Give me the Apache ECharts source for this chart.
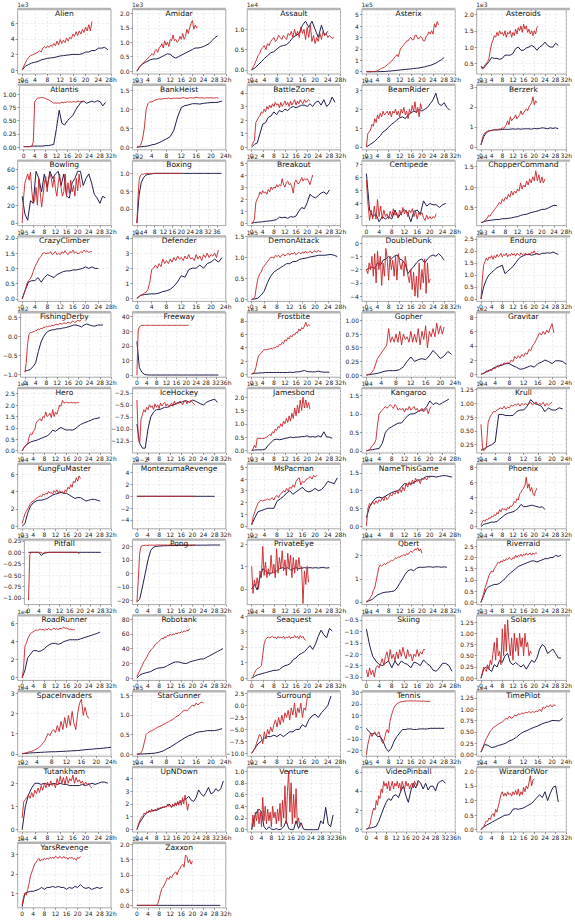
<!DOCTYPE html>
<html>
<head>
<meta charset="utf-8">
<script src="https://cdn.jsdelivr.net/npm/echarts@6/dist/echarts.min.js"></script>
<style>
html, body { margin: 0; padding: 0; background: #fff; }
#chart { width: 575px; height: 920px; }
</style>
</head>
<body>
<div id="chart"></div>
<script>
// red curve: one value every 0.5h, navy curve: one value every 1h
const alien_r = [0,.5,.9,1.3,1.6,1.8,1.9,2,2.1,2.2,2.3,2.5,2.3,2.8,3,2.8,3.1,2.9,3.2,3,3.4,3.1,3.7,3.2,3.9,3.4,3.8,3.5,4.1,3.7,4.2,4,4.6,4.3,4.9,4.4,5,4.6,5.2,4.8,5.5,5,5.8,5,6.2];
const alien_n = [0,.5,.7,.9,1,1.1,1.3,1.4,1.5,1.55,1.6,1.7,1.8,1.85,1.9,1.95,2,2,2,2.1,2.3,2.3,2.5,2.5,2.8,2.8,2.9,2.6];
const amidar_r = [0,.08,.15,.2,.25,.3,.35,.4,.45,.5,.55,.6,.55,.7,.75,.65,.8,.85,.95,.8,1.05,.9,1,.85,1.1,1.05,1.25,1.05,1.1,1,1.05,1.2,1.1,1.3,1.1,1.2,1.45,1.3,1.5,1.65,1.75,1.45,1.6,1.5,1.55];
const amidar_n = [0,.15,.25,.3,.35,.4,.42,.42,.45,.5,.55,.6,.58,.5,.45,.5,.55,.6,.65,.7,.75,.8,.8,.82,.85,.9,.95,1.05,1.15,1.22];
const assault_r = [0,.08,.15,.25,.35,.4,.5,.55,.6,.5,.65,.6,.7,.75,.8,.7,.75,.85,.8,.75,.85,.8,.75,.9,.85,.95,.8,1,.85,.95,.8,1.05,.9,1,.75,1.05,.8,1.1,.7,.85,.65,.8,.7,.9,.75,.95,.85,.9,.8,.85,.8,.78,.8];
const assault_n = [0,.05,.12,.2,.28,.35,.42,.45,.52,.58,.6,.62,.7,.8,.85,.9,1.1,1.2,1.05,1.2,1,.8,1.1,.85,.95];
const asterix_r = [0,0,0,0,.01,.02,.03,.05,.1,.15,.25,.3,.35,.4,.5,.6,.7,.8,.9,1.05,1.2,1.35,1.5,1.3,1.8,2.1,2.2,2.4,2.5,2.7,2.7,2.9,3,2.8,2.8,3.2,3.2,2.9,2.9,3.1,3,2.7,2.7,3.1,3.2,3.5,3.3,3.6,3.3,4.2,3.9,4.4,4.1];
const asterix_n = [0,0,0,0,0,.01,.02,.03,.05,.07,.1,.12,.15,.18,.2,.22,.25,.28,.3,.33,.38,.42,.5,.55,.65,.75,.9,1.05,1.25];
const asteroids_r = [.4,.32,.38,.45,.5,.55,.65,.9,1.1,1.2,1.35,1.3,1.45,1.35,1.5,1.4,1.45,1.35,1.5,1.3,1.45,1.4,1.5,1.3,1.45,1.35,1.55,1.4,1.6,1.5,1.65,1.45,1.7,1.55,1.65,1.45,1.55,1.4,1.5,1.35,1.5,1.4,1.6,1.65];
const asteroids_n = [.4,.35,.45,.55,.68,.65,.65,.62,.65,.75,.75,.75,.8,.95,1,.9,.9,.97,1,1.05,1,.9,1,1.05,1.15,1.05,1,1,1.12,1.05];
const atlantis_r = [.01,.01,.01,.01,.01,.01,.02,.1,.85,.9,.92,.93,.93,.94,.94,.93,.92,.91,.9,.88,.87,.85,.83,.84,.83,.84,.83,.84,.85,.84,.85,.85,.86,.85,.86,.85,.86,.86,.85,.86,.87,.86,.86,.87,.86];
const atlantis_n = [.01,.01,.01,.02,.02,.02,.02,.02,.03,.03,.04,.05,.35,.7,.45,.42,.5,.55,.6,.7,.78,.85,.87,.83,.85,.87,.85,.88,.86,.78,.85];
const bankheist_r = [0,.01,.05,.2,.5,1,1.15,1.2,1.2,1.22,1.25,1.26,1.28,1.27,1.28,1.29,1.28,1.3,1.29,1.28,1.3,1.29,1.3,1.29,1.3,1.31,1.3,1.29,1.3,1.31,1.3,1.3,1.32,1.31,1.3,1.31,1.3,1.3,1.31,1.3,1.31,1.3,1.3,1.31,1.3];
const bankheist_n = [0,.01,.02,.03,.06,.08,.12,.17,.22,.28,.45,.8,1.05,1.1,1.12,1.15,1.15,1.14,1.16,1.17,1.18,1.18,1.19,1.22];
const battlezone_r = [.1,.3,.5,1.8,2,2.2,2.3,2.6,2.5,2.8,2.6,3,2.8,3.1,2.9,3.2,3,3.3,3.1,3.2,2.9,3.3,3,3.2,3.4,3.1,3.3,3,3.4,3.1,3.3,3.5,3.1,3.4,3.2,3.5,3.3,3.2,3.5,3.3,3.4,3.5,3.4];
const battlezone_n = [0,.2,.3,1,1.7,1.8,2.2,2.3,2.6,2.4,2.7,2.6,2.8,2.7,2.9,3,2.9,3,3.1,3.1,3,3.2,3,3.3,3.4,3.1,3.5,3,3.2,3.7,3.3];
const beamrider_r = [0,.7,.8,.9,1.2,1.1,1.5,1.3,1.7,1.5,1.8,1.6,1.9,1.7,1.8,1.9,1.7,1.9,1.6,1.9,1.8,2,1.7,1.9,1.6,2,1.8,2.1,1.7,1.9,1.5,2,1.8,2.2,1.9,2.4,1.8,2.1,1.6,2.3,2];
const beamrider_n = [0,.1,.2,.3,.45,.6,.8,.9,1.05,1.2,1.3,1.45,1.55,1.6,1.5,1.7,1.8,1.9,1.85,2,1.9,2,2.1,2.3,2.5,2.85,2.3,2.2,2.35,2.1,1.95];
const berzerk_r = [.1,.4,.6,.7,.75,.78,.8,.8,.82,.83,.85,.84,.85,.87,.9,.88,.95,.92,1,1.1,1.3,1.1,1.5,1.3,1.4,1.45,1.6,1.4,1.5,1.6,1.8,1.6,1.7,1.8,1.9,1.8,2,2.1,2.2,2.5,2.1,2.3,2.2];
const berzerk_n = [.1,.5,.7,.8,.82,.85,.85,.85,.87,.88,.87,.88,.9,.88,.9,.88,.9,.9,.9,.88,.92,.9,.92,.95,.93,.9,.95,.92,.95,.9];
const bowling_r = [0,28,45,50,55,48,57,35,22,25,40,20,50,35,18,30,45,52,35,48,55,50,40,52,38,30,45,55,40,30,35,55,30,45,33,48,35,42,30,50,36,55,40];
const bowling_n = [30,10,3,25,22,58,50,35,55,40,58,50,55,58,42,55,30,28,45,50,58,58,42,50,55,45,32,28,22,30,28];
const boxing_r = [-.4,.3,.8,.93,.97,.98,.98,.99,.99,1,1,1,1,1,1,1,1,1,1,1,1,1,1,1,1,1,1,1,1,1,1,1,1,1,1,1,1,1,1,1,1];
const boxing_n = [-.4,.4,.75,.88,.95,.97,.98,.99,1,1,1,1,1,1,1,1,1,1,1,1,1,1,1,1,1,1,1,1,1,1,1,1,1,1,1,1,1,1,1];
const breakout_r = [0,.1,.3,1.7,2,2.2,2.6,2.4,2.7,2.5,2.6,2.4,2.8,2.6,3,2.8,3,2.9,3.2,3,3.2,3.1,3.7,3.2,3,3.4,3.5,3.2,3.3,3,2.5,3.4,3.6,3.3,3.3,3.5,3.8,3.5,3.7,3.6,3.7,3.5,3.2,3.6,4];
const breakout_n = [0,.05,.08,.1,.12,.15,.18,.2,.25,.3,.5,.45,.5,.4,.55,.5,.6,1,1.3,1.2,1.7,2.4,2.2,2.1,2.3,2.5,2.6,2.4,2.75];
const centipede_r = [5.8,4,2.7,3.5,2.8,3.8,2.8,4.3,3,3.8,2.8,3.5,3,3.2,2.8,3.4,3,3.6,3.1,3.3,2.9,3.5,3.1,3.7,3.2,3.5,3,3.5,3.3,3.6,3,3.4,2.8,3.3,3.1,3.3,2.9,2.7,3.1,2.8,3,2.8,3,2.9,3.2];
const centipede_n = [6.3,3.5,3,3.2,2.6,3,2.8,3,2.8,3.5,2.9,3.3,3.5,3.3,2.6,3.4,3.5,3.2,4.2,3.8,4,3.9,3.9,3.7,3.9,4];
const chopper_r = [.12,.13,.15,.2,.22,.3,.28,.35,.4,.45,.5,.55,.62,.58,.7,.65,.75,.7,.82,.75,.9,.8,.9,.85,.95,.9,1.1,.95,1.05,1,1.15,1.05,1.2,1.1,1.25,1.15,1.4,1.15,1.3,1.1,1.25,1.1,1.2];
const chopper_n = [.12,.15,.17,.18,.19,.2,.2,.22,.22,.23,.24,.26,.27,.3,.32,.33,.36,.38,.4,.42,.45,.45,.48,.52,.55,.54];
const crazy_r = [0,.15,.3,.5,.6,.65,.75,.9,1.05,1.15,1.25,1.35,1.4,1.5,1.52,1.48,1.5,1.5,1.55,1.45,1.5,1.55,1.45,1.5,1.45,1.55,1.5,1.58,1.5,1.45,1.55,1.52,1.6,1.5,1.55,1.48,1.5,1.55,1.52,1.6,1.55,1.58,1.52,1.55,1.55];
const crazy_n = [0,.3,.55,.6,.6,.7,.55,.7,.8,.75,.7,.8,.85,.9,.92,.92,.95,.95,.97,1,1.05,1,1.05,1,1];
const defender_r = [0,.1,.2,.25,.35,.4,.6,1.1,1.9,2,2.2,2,2.3,2.1,2.6,2.3,2.5,2.3,2.6,2.4,2.7,2.5,2.8,2.6,2.7,2.5,2.8,2.6,2.9,2.6,2.7,2.5,2.9,2.6,2.8,2.5,2.9,2.7,3,2.7,2.9,2.8,3,2.7,3.2];
const defender_n = [0,.2,.25,.28,.3,.3,.35,.45,.5,.6,.8,1.1,1.5,1.4,1.9,2,2,2.2,2,2.3,2.4,2.6,2.4,2.7];
const demon_r = [0,.01,.05,.3,.5,.6,.65,.75,.8,.85,.9,.95,1,1,.98,1.05,1.02,1.05,1,1.05,1.08,1.03,1.07,1.1,1.05,1.1,1.08,1.12,1.06,1.1,1.12,1.08,1.13,1.1,1.15,1.1,1.12,1.15,1.1,1.14,1.16,1.12,1.17,1.14,1.15];
const demon_n = [0,.01,.03,.1,.2,.4,.55,.65,.7,.75,.8,.85,.85,.9,.9,.95,.97,.98,1,1.02,1.03,1.05,1.05,1.05,1.06,1.07,1.05,1.02];
const dunk_r = [-2,-2.3,-1.5,-2,-1,-2.5,-.8,-3,-.6,-2,-1,-3.2,-1.5,-2.5,-.4,-1.2,-2.8,-1,-2,-1.3,-2.5,-1,-2.8,-.8,-1.5,-2,-1.4,-2.5,-1,-1.8,-2.5,-3,-2,-3.5,-2.2,-4,-2.5,-4.1,-1.5,-3.5,-2,-3,-1.2,-3.8,-1.5,-3,-2.7];
const dunk_n = [-2,-1.9,-1.8,-1.9,-1.5,-1.7,-1.3,-1.2,-1,-1.2,-1,-.9,-1.2,-1.3,-1.6,-2.3,-2,-1.8,-1.5,-1.3,-1.2,-1.5,-1.2,-1,-.9,-1,-.8,-1,-1.3];
const enduro_r = [0,.8,1.4,1.55,1.7,1.6,1.75,1.7,1.8,1.65,1.8,1.7,1.85,1.75,1.8,1.9,1.75,1.85,1.8,1.9,1.75,1.85,1.8,1.9,1.82,1.88,1.78,1.9,1.85,1.8,1.92,1.85,1.8,1.9,1.88,1.82,1.9,1.85,1.95,1.9,2,1.88,1.9,1.85,1.85];
const enduro_n = [0,.5,.8,1,1.1,1.2,1.3,1.35,1.4,1.05,1.15,1.25,1.35,1.5,1.65,1.75,1.8,1.85,1.85,1.82,1.85,1.88,1.85,1.9,1.9,1.92,1.9,1.95,1.9,1.85];
const fishing_r = [-.95,-.7,-.2,.05,.1,.1,.12,.13,.15,.16,.2,.18,.22,.2,.25,.23,.27,.25,.28,.26,.3,.28,.3,.32,.32,.3,.35,.33,.33,.36,.35,.34,.38,.36,.35,.4,.4,.37,.38,.42,.42,.4,.45];
const fishing_n = [-.92,-.9,-.88,-.8,-.7,-.4,-.15,0,.1,.15,.17,.18,.2,.2,.22,.23,.25,.27,.3,.3,.28,.25,.3,.33,.3,.28,.27,.3,.3,.3];
const freeway_r = [0,30,33,33.5,34,34,34,34,34,34,34,34,34,34,34,34,34,34,34,34,34,34,34,34,34,34,34,34,34,34,34,34,34,34,34,34,34,34,34,34,34,34,34];
const freeway_n = [23,5,2,.5,.1,0,0,0,0,0,0,0,0,0,0,0,0,0,0,0,0,0,0,0,0,0,0,0,0,0,0,0,0,0];
const frostbite_r = [0,.2,.3,1,2,2.8,3,3.2,3.5,3.7,3.7,3.7,3.8,3.8,3.9,3.8,4,4,4.2,4.1,4.5,4.4,4.8,4.6,5.2,5,5.5,5.3,5.8,5.6,6,5.9,6.3,6.2,6.8,6.5,7,6.8,7.2,7.8,7.2,7.4,7.3];
const frostbite_n = [.1,.2,.2,.25,.25,.3,.3,.3,.3,.3,.3,.3,.3,.3,.35,.3,.4,.4,.5,.6,.45,.4,.4,.4,.5,.4,.35,.35,.35];
const gopher_r = [0,.01,.02,.05,.1,.2,.3,.35,.4,.45,.5,.55,.85,.6,.7,.6,.75,.6,.8,.55,.75,.65,.7,.6,.8,.6,.75,.6,.85,.55,.8,.65,.9,.5,.8,.7,.85,.7,.95,.75,.9,.75,.88];
const gopher_n = [0,.01,.02,.03,.05,.07,.08,.08,.08,.1,.15,.25,.33,.25,.28,.3,.28,.35,.45,.38,.3,.35,.43,.38];
const gravitar_r = [0,.1,.2,.5,.3,.6,.5,.9,.8,1.2,1,1.4,1.3,1.6,1.5,1.7,1.5,2,1.8,2.5,2.2,2.6,2.3,2.8,2.5,3,2.8,3.5,3.3,4,4.3,4.8,5.3,5.8,5.5,6,5.6,6.2,5.8,6.5,7.1,5.8];
const gravitar_n = [0,.2,.5,.7,1,1.2,1.3,1.5,1.5,1.2,1,.7,.8,1,1.2,1,1.5,1.7,2,1.8,1.5,1.9,1.9,1.8,1.4];
const hero_r = [0,.1,.2,.25,.3,.6,.75,.7,.85,.9,1.2,1.3,1.35,1.4,1.3,1.5,1.45,1.7,1.5,1.55,1.65,1.45,1.8,1.5,1.7,1.6,1.8,2,1.95,2.2,2.1,2.1,2.12,2.1,2.1,2.12,2.1,2.11,2.1,2.1,2.11,2.1];
const hero_n = [0,.2,.3,.38,.42,.45,.5,.55,.6,.65,.75,.9,.85,.95,1.02,.95,.9,.92,.9,.95,1.05,1.15,1.2,1.25,1.3,1.35,1.4,1.42,1.45];
const ice_r = [-4,-12,-13,-8,-7,-6,-6.5,-5.5,-6,-5,-5.5,-5.2,-6,-4.8,-5.5,-5,-5.8,-4.6,-5.2,-4.8,-4.5,-5.2,-4.8,-5.5,-5,-4.6,-5.3,-4.2,-5,-4.5,-4.8,-4.2,-4.5,-5,-4.3,-4,-4.8,-4.2,-4.5,-4,-4.5,-4.8,-5];
const ice_n = [-9,-13,-14,-14,-10,-7.5,-6.5,-6,-6,-5.8,-5.5,-5.5,-5.2,-5,-4.8,-4.5,-4.5,-4.2,-4.2,-4.5,-4,-4.2,-4.5,-4.8,-5,-4.5,-4.2,-4,-3.8,-4.5];
const james_r = [0,.05,.2,.1,.45,.45,.45,.45,.45,.45,.48,.5,.55,.6,.55,.7,.65,.8,.75,.9,.85,1,.9,1.1,1,1.2,1.05,1.3,1.1,1.4,1.2,1.6,1.3,1.7,1.4,1.9,1.5,2,1.6,1.9,1.6,1.8,1.55];
const james_n = [0,.01,.02,.02,.02,.05,.2,.3,.4,.42,.4,.42,.45,.47,.5,.48,.5,.5,.52,.52,.55,.5,.52,.5,.55,.5,.7,.5,.5,.45];
const kangaroo_r = [0,.01,.02,.1,.15,.2,.3,.7,1,1.05,1.1,1.15,1.2,1.15,1.2,1.25,1.2,1.15,1.25,1.2,1.1,1.15,1.1,1.15,1.05,1.15,1.1,1.2,1.1,1.15,1.2,1.1,1.15,1.05,1.1,1.15,1.05,1.1,1.15,1,1.15,1.2];
const kangaroo_n = [0,.02,.03,.05,.06,.2,.5,.6,.65,.7,.75,.75,.85,.95,1,1,1.05,1.1,1.1,1.2,1.35,1.25,1.3,1.25,1.3,1.35,1.4];
const krull_r = [.62,.15,.15,.2,.65,.75,.8,.85,.85,.88,.9,.92,.9,.95,.9,.93,.92,.97,.95,.98,.97,1,.95,1,.97,1,.97,1,1.02,.97,1,1.03,.97,1,.98,1.02,.95,1,.97,1,1.02];
const krull_n = [.15,.18,.22,.25,.3,.8,.8,.78,.78,.78,.85,.88,.88,.95,1.07,1,.98,.95,.85,.92,.88,.88,.92,.9];
const kungfu_r = [.3,.9,1.4,1.7,2,2.3,2.6,2.8,2.9,3,3.2,3.3,3.4,3.5,3.4,3.7,3.6,3.8,3.7,4,3.8,3.9,3.7,4.1,3.9,4.2,3.8,4.1,3.9,4,3.7,4.2,4,4.5,4.3,4.8,4.5,5.2,5,5.6,5.2,5.8,5.5];
const kungfu_n = [0,.3,1.5,2.3,2.7,2.9,3,3,3.1,3.2,3.4,3.6,3.7,3.8,3.9,3.8,3.8,3.6,3.4,3.2,3.3,3.3,3.1,2.9,3,3.1,3.1,3,2.9];
const montezuma_r = [0,0,0,0,0,0,0,0,0,0,0,0,0,0,0,0,0,0,0,0,0,0,0,0,0,0,0,0,0,0,0,0,0,0,0,0,0,0,0,0,0,0,0];
const montezuma_n = [0,0,0,0,0,0,0,0,0,0,0,0,0,0,0,0,0,0,0,0,0,0,0,0,0,0,0,0,0];
const mspacman_r = [.1,.8,1.2,1.6,1.9,2.1,2.2,2.1,2.2,2.2,2.3,2.2,2.3,2.4,2.2,2.5,2.6,2.4,2.7,2.8,3,2.9,3.2,3,3.3,3.2,3.5,3.3,3.8,4,4.1,3.5,3.8,3.7,3.9,4,4.1,4.2,4,4.3,4.2,4.3];
const mspacman_n = [.1,.7,1.2,1.3,1.4,1.5,1.5,1.5,2.1,2.3,2.5,2.8,3,2.7,2.9,3.1,3.3,3,2.9,3,3.2,3,3.1,3.4,3.8,3.7,3.6,4.1];
const namethis_r = [.02,.5,.65,.6,.7,.62,.72,.65,.75,.7,.8,.72,.85,.75,.8,.9,.85,.95,.9,1,.92,1.05,.95,1.1,1,1.2,1.1,1.25,1.15,1.3,1.2,1.35,1.25,1.3,1.2,1.35,1.3,1.35,1.3,1.4,1.35];
const namethis_n = [.25,.55,.7,.8,.82,.8,.85,.9,.95,.98,1,1.1,1.2,1.18,1.2,1.22,1.3,1.3,1.35,1.4,1.4,1.4,1.38,1.4,1.42,1.42,1.4,1.38];
const phoenix_r = [.2,.6,.9,.7,1,.9,1.2,1.1,1.4,1.3,1.6,1.5,1.9,1.7,2.3,2,2.5,2.3,2.4,2.2,2.6,2.4,2.8,2.7,3,3.4,3.2,3.8,3.6,4.4,4.6,5,5.2,5.6,6.7,5.2,5.8,4.8,5.3,4.5,4.2,4.8,5.2];
const phoenix_n = [0,.3,.4,.5,.6,.6,.7,1,1.3,1.6,1.8,1.9,2,2.2,2.5,3,2.7,2.7,2.8,2.9,2.8,2.7,2.6,2.7,2.3];
const pitfall_r = [-1.05,-.05,0,0,0,0,0,0,0,0,0,-.05,0,0,0,0,0,0,0,0,0,0,0,0,0,0,0,0,0,0,0,0,0,0,0,0,0,0,0,-.03,0];
const pitfall_n = [0,0,0,0,0,-.07,-.02,-.01,0,0,0,0,0,0,0,0,0,0,0,0,0,0,0,0,0,0,0,0,0];
const pong_r = [-21,-5,15,20,20.5,20.7,20.8,20.8,20.8,20.9,20.9,20.9,20.9,20.9,21,21,21,21,21,21,21,21,21,21,21,21,21,21,21,21,21,21,21,21,21,21,21,21,21,21,21,21,21];
const pong_n = [-21,-19,-10,0,10,17,19.5,20,20.2,20.4,20.5,20.5,20.6,20.6,20.7,20.7,20.7,20.8,20.8,20.8,20.8,20.9,20.9,20.9,20.9,20.9,21,21,21,21,21];
const privateeye_r = [1,-.2,.4,.1,.5,0,.8,.5,1.9,.6,1.2,.5,.9,.6,1.5,.7,1.1,.5,1.8,.7,1.4,.9,1.7,.8,1.3,.6,1.6,.9,1.5,.5,1.4,.7,1.3,.8,1.4,.9,1,-.65,.8,.2,1,.3];
const privateeye_n = [0,.2,-.05,.5,.9,.8,.7,.7,.75,.8,.9,.95,.9,.95,.85,.9,.95,.9,.92,.95,.93,.95,.93,.95,.93,.95,.95,.93,.95];
const qbert_r = [.02,.05,.1,.2,.3,.5,.6,.9,1.2,1.5,1.6,1.55,1.6,1.65,1.62,1.7,1.7,1.75,1.8,1.78,1.85,1.9,1.88,1.95,1.93,2,2,2.05,2,2.1,2.05,2.15,2.2,2.15,2.2,2.3,2.25,2.35,2.2,2.3,2.1];
const qbert_n = [0,.05,.1,.2,.3,.35,.4,.42,.43,.45,.47,.6,.8,1,1.2,1.35,1.4,1.35,1.45,1.5,1.5,1.5,1.52,1.52,1.5,1.52,1.52,1.5,1.52,1.5];
const river_r = [0,.2,.4,.65,.8,1,1.2,1.3,1.4,1.35,1.5,1.6,1.7,1.8,1.75,1.85,1.8,1.9,1.85,1.95,1.9,2,1.95,1.9,2,1.95,2.1,2,2.1,2.05,2.15,2.05,2.15,2.1,2.2,2.1,2.15,2.2,2.1,2.2,2.15,2.2,2.2];
const river_n = [0,.3,.6,.7,.75,.8,.8,.85,.95,1.05,1.2,1.3,1.4,1.5,1.6,1.65,1.7,1.75,1.8,1.85,1.85,1.8,1.85,1.9,1.95,1.95,2,2,2.1,2.05,2.1];
const road_r = [0,1,3.5,3.8,4.3,4.6,4.9,5,5.1,5.2,5.3,5.2,5.3,5.4,5.3,5.35,5.25,5.4,5.3,5.45,5.35,5.3,5.4,5.5,5.35,5.45,5.3,5.5,5.4,5.5,5.6,5.45,5.5,5.4,5.35,5.4,5.3,5.35,5.3];
const road_n = [0,.8,2.2,2.6,3,3,2.9,3,3.2,3.5,3.7,3.8,3.8,3.7,3.8,4,4.1,4.2,4.2,4.2,4.2,4.3,4.4,4.5,4.6,4.7,4.8,4.9,5.05];
const robotank_r = [2,6,10,14,18,22,25,28,32,35,38,40,42,45,47,48,50,52,54,53,56,55,58,57,60,58,60,59,61,60,62,61,63,62,64,63,65,64,67];
const robotank_n = [0,4,6,7,8,9,11,13,14,14,15,17,19,21,22,22,21,20,20,22,23,24,25,26,26,28,30,32,34,36,38,40];
const seaquest_r = [0,.1,.3,.5,.6,.65,.7,.8,1.5,2.2,2.5,2.6,2.65,2.6,2.65,2.7,2.6,2.65,2.55,2.7,2.6,2.65,2.6,2.7,2.55,2.65,2.6,2.7,2.55,2.65,2.6,2.75,2.6,2.7,2.55,2.75,2.6,2.7,2.5,2.45];
const seaquest_n = [0,.1,.2,.25,.3,.35,.4,.45,.5,.5,.55,.7,.8,.85,.95,1.2,1.3,1.5,1.6,1.7,1.9,2.1,1.85,2.2,2.7,3.1,2.8,2.6,3.2,3.05];
const skiing_r = [-2.7,-3,-2.6,-2.9,-2.7,-3,-2.6,-2.5,-2.6,-2.4,-2.2,-2.5,-2.1,-1.9,-2.3,-1.8,-2.2,-2,-2.3,-1.9,-2.2,-1.8,-2.1,-1.7,-2,-2.2,-1.8,-2.1,-2,-2.3,-2,-2.1,-1.8,-2.1,-1.9,-2,-1.8,-1.8];
const skiing_n = [-.9,-1.6,-2.1,-2.3,-2.45,-2.5,-2.4,-2.3,-2.6,-2.3,-2.5,-2.3,-2.4,-2.45,-2.6,-2.35,-2.4,-2.5,-2.25,-2.4,-2.5,-2.7,-2.75,-2.6,-2.4,-2.4,-2.5,-2.75];
const solaris_r = [0,.1,.25,.2,.15,.3,.2,.4,.3,.55,.8,.4,.9,.5,.6,.3,1.1,.5,1.2,.6,1.3,.8,.5,.9,.4,1,.6,.9,.5,1,.7,.9,.5,1,.7,.8,.5,.6,.55];
const solaris_n = [0,.2,.25,.2,.15,.3,.25,.4,.35,.5,.55,.35,.3,.35,.3,.25,.3,.2,.3,.4,.35,.45,.65,.75,.7,.55,.6,.65,.55,.45,.45];
const space_r = [0,.02,.05,.07,.1,.12,.15,.2,.25,.3,.4,.5,.6,.8,1,.9,1.1,1.2,1.05,1.4,1.1,1.6,1.2,1.8,1.3,1.9,1.4,2.1,1.5,1.2,2,2.5,2.7,1.9,2.3,1.9,1.75];
const space_n = [0,.02,.04,.05,.06,.07,.08,.09,.1,.1,.11,.12,.13,.14,.15,.16,.18,.2,.22,.23,.25,.26,.28,.3,.32];
const stargunner_r = [0,.01,.02,.1,.3,.5,.55,.58,.6,.62,.65,.68,.7,.72,.75,.77,.8,.82,.85,.87,.9,.95,.97,1,1.05,1.1,1.12,1.1,1.15,1.2,1.25,1.22,1.3,1.25,1.3,1.32,1.3];
const stargunner_n = [0,.005,.01,.015,.02,.03,.05,.08,.13,.18,.24,.3,.36,.42,.47,.5,.55,.57,.58,.6,.6,.6,.62,.65];
const surround_r = [-10,-9.5,-9,-8,-7,-6,-6.5,-8,-5.5,-7,-5,-6,-4.5,-5.5,-4,-3,-4.5,-2.5,-4,-2,-3.5,-1.5,-2.5,-1,-3,-.5,-2,.5,-2.5,-.5,-1.5,.5,-2.5,-.5,-1,1.5,1.8];
const surround_n = [-10,-9,-8,-7.5,-6.8,-6.5,-6.5,-6.2,-6.5,-6,-6.5,-6,-5.5,-5.5,-5,-5,-4,-4.5,-3,-2.2,-1.8,-2.5,-1.5,-.8,0,2];
const tennis_r = [-24,-15,-10,-5,-8,-6,-4,-7,-6,-4,-8,-12,-14,-10,-5,-2,-5,5,10,14,17,19,20,21,21.5,22,22,22.3,22.5,22.5,22.6,22.5,22.7,22.6,22.5,22.7,22.6,22.5,22.6,22.5,22.4,22.5,22.4,22.3,22.3,22.2,22.2];
const tennis_n = [-1,-4,-6,-5,-8,-8,-12,-18,-21,-18,-12,-8,-5,-2,-2,-1.5,-1.5,-2,-2,-1.5,-1.5,-1.5,-1.5,-1,-1,-1,-1,-1,-1];
const timepilot_r = [.05,.15,.25,.35,.42,.5,.55,.6,.62,.65,.68,.7,.72,.75,.8,.78,.85,.8,.82,.87,.85,.9,.88,.92,.9,.93,.92,.95,.92,.95,.93,.96,.95,1,.95,1.05,1.02,1.08,1.05,1.1,1.05,1.1,1.08];
const timepilot_n = [.05,.22,.2,.15,.17,.2,.22,.25,.3,.33,.38,.45,.5,.53,.57,.6,.63,.67,.7,.72,.75,.75,.74,.8];
const tut_r = [.5,1.2,1.3,1.4,1.5,1.35,1.6,1.4,1.7,1.55,1.8,1.6,1.9,1.7,2,1.8,2.05,1.85,2.1,1.9,2,1.8,2.2,1.95,2.3,2,2.25,1.95,2.3,2,2.2,2.1,2.35,2,2.25,2.05,2.15,2,2.1,1.9,2.05,1.95,2,1.85,1.8];
const tut_n = [0,1,1.5,1.8,2,2,1.95,2,1.95,1.95,2,1.95,2,1.95,1.95,1.9,1.9,1.9,1.9,1.95,1.9,1.95,2,1.95,2,2.05,2.05,2];
const updown_r = [0,.3,.6,.85,1,1.1,1.3,1.2,1.4,1.3,1.5,1.35,1.6,1.4,1.5,1.6,1.5,1.7,1.6,1.75,1.65,1.8,1.7,1.85,1.75,2,1.8,1.9,1.7,2,1.8,2.1,1.85,2.2,1.9,2.3,1.9,2.5,2,2.7,2.2,1.5,2];
const updown_n = [0,.5,.8,1.1,1.3,1.4,1.45,1.5,1.5,1.6,1.7,1.75,1.8,2,1.8,1.9,2,2.1,2.2,2.3,2.4,2.6,2.3,2.2,2.5,3.1,2.8,2.6,2.9,3.3,2.8,2.9,3.2,3,3.2,3.8];
const venture_r = [0,.25,.05,.3,.15,.35,.1,.3,.05,.55,.15,.4,.1,.35,.15,.3,.05,.4,.2,.3,.1,.35,.15,.45,.05,.5,.2,.75,.1,.65,1,.3,.8,.1,.6,.2,.7,.1,.2,.05,.1];
const venture_n = [0,.2,.3,.35,.3,.05,0,.05,.01,0,.02,0,.01,.05,.15,.02,0,0,.15,.02,.12,.01,0,0,0,0,0,0,.15,.1,.38,.1,.05,.25];
const video_r = [0,.05,.2,.5,1.2,1.8,2.2,2,3,2.5,3.5,3.2,4.2,3.8,5,4.5,4.8,4.2,5,4,4.5,5,4.2,4.8,4.5,5,4.3,4.8,4,5,4.5,4.2,5,4.5,4.8,4.2,4.6,4.8,4.3,5,4.7,4.5,4.9];
const video_n = [0,.1,.15,.2,.3,.8,1.5,2.2,2.8,3.2,3,3.5,3.6,3.3,4,4.5,3.5,2.8,4,4.8,4.3,5.1,4.8,4.2,4.8,4.1,4.5,4.5,4,4.8,5,5.1,4.8];
const wizard_r = [0,.05,.1,.2,.3,.28,.4,.35,.5,.55,.45,.7,.6,.8,1,1.2,1.3,1.15,1.25,1.15,1.3,1.2,1.25,1.15,1.3,1.2,1.35,1.2,1.4,1.15,1.3,1.2,1.45,1.3,1.5,1.4,1.6,1.85,1.5,1.7,1.75];
const wizard_n = [0,.1,.15,.2,.25,.3,.35,.4,.45,.5,.5,.55,.7,.72,.7,.72,.75,.8,.85,.9,1,1.1,1.2,1.1,1.3,1,1.25,1.45,1.5,.95];
const yars_r = [.4,.8,1,.9,1.2,1.5,1.9,2.1,2.3,2.5,2.6,2.7,2.8,2.65,2.75,2.7,2.8,2.75,2.8,2.75,2.85,2.8,2.85,2.8,2.9,2.85,2.8,2.9,2.85,2.8,2.9,2.8,2.85,2.75,2.85,2.8,2.85,2.75,2.8,2.7,2.85,2.8,2.9];
const yars_n = [.3,1,1.05,1.1,1.1,1.15,1.2,1.3,1.2,1.3,1.3,1.35,1.3,1.35,1.3,1.3,1.2,1.3,1.25,1.35,1.3,1.45,1.3,1.25,1.3,1.2,1.25,1.3,1.25,1.3];
const zaxxon_r = [0,0,0,0,0,0,0,0,0,0,0,0,0,0,0,.05,.2,.4,.55,.6,.7,.8,.9,.85,.95,.9,1,1.05,1.1,1,1.15,1.2,1.3,1.35,1.25,1.65,1.6,1.4,1.5,1.35,1.45];
const zaxxon_n = [0,0,0,0,0,0,0,0,0,0,0,0,0,0,0,0,0,0,0,0,0,0,0,0,0,0,0,0,0,0,0];

const games = ['Alien','Amidar','Assault','Asterix','Asteroids','Atlantis','BankHeist','BattleZone','BeamRider','Berzerk',
  'Bowling','Boxing','Breakout','Centipede','ChopperCommand','CrazyClimber','Defender','DemonAttack','DoubleDunk','Enduro',
  'FishingDerby','Freeway','Frostbite','Gopher','Gravitar','Hero','IceHockey','Jamesbond','Kangaroo','Krull',
  'KungFuMaster','MontezumaRevenge','MsPacman','NameThisGame','Phoenix','Pitfall','Pong','PrivateEye','Qbert','Riverraid',
  'RoadRunner','Robotank','Seaquest','Skiing','Solaris','SpaceInvaders','StarGunner','Surround','Tennis','TimePilot',
  'Tutankham','UpNDown','Venture','VideoPinball','WizardOfWor','YarsRevenge','Zaxxon'];
const redRuns = [alien_r,amidar_r,assault_r,asterix_r,asteroids_r,atlantis_r,bankheist_r,battlezone_r,beamrider_r,berzerk_r,
  bowling_r,boxing_r,breakout_r,centipede_r,chopper_r,crazy_r,defender_r,demon_r,dunk_r,enduro_r,
  fishing_r,freeway_r,frostbite_r,gopher_r,gravitar_r,hero_r,ice_r,james_r,kangaroo_r,krull_r,
  kungfu_r,montezuma_r,mspacman_r,namethis_r,phoenix_r,pitfall_r,pong_r,privateeye_r,qbert_r,river_r,
  road_r,robotank_r,seaquest_r,skiing_r,solaris_r,space_r,stargunner_r,surround_r,tennis_r,timepilot_r,
  tut_r,updown_r,venture_r,video_r,wizard_r,yars_r,zaxxon_r];
const navyRuns = [alien_n,amidar_n,assault_n,asterix_n,asteroids_n,atlantis_n,bankheist_n,battlezone_n,beamrider_n,berzerk_n,
  bowling_n,boxing_n,breakout_n,centipede_n,chopper_n,crazy_n,defender_n,demon_n,dunk_n,enduro_n,
  fishing_n,freeway_n,frostbite_n,gopher_n,gravitar_n,hero_n,ice_n,james_n,kangaroo_n,krull_n,
  kungfu_n,montezuma_n,mspacman_n,namethis_n,phoenix_n,pitfall_n,pong_n,privateeye_n,qbert_n,river_n,
  road_n,robotank_n,seaquest_n,skiing_n,solaris_n,space_n,stargunner_n,surround_n,tennis_n,timepilot_n,
  tut_n,updown_n,venture_n,video_n,wizard_n,yars_n,zaxxon_n];
const expLabels = ['1e3','1e3','1e4','1e5','1e3','1e6','1e3','1e4','1e4','1e3',
  '','1e2','1e2','1e3','1e4','1e5','1e4','1e5','','1e3',
  '1e2','','1e3','1e5','1e2','1e4','','1e3','1e4','1e4',
  '1e4','1e\u22122','1e3','1e4','1e4','1e3','','1e2','1e4','1e4',
  '1e4','','1e4','1e4','1e3','1e4','1e5','','','1e4',
  '1e2','1e4','1e2','1e5','1e4','1e4','1e4'];
const xEnds = [28,32,28,32,32,32,24,32,32,32,
  32,40,32,28,28,28,24,28,32,32,
  32,36,32,24,24,32,32,32,28,24,
  32,32,28,28,32,32,32,32,32,32,
  32,32,32,28,32,24,24,28,32,24,
  28,36,36,36,32,32,32];
const yRanges = [[-.5,7.8],[-.1,2.15],[-.1,1.5],[-.2,5.5],[.17,2.17],[-.05,1.18],[-.07,1.65],[-.2,4.6],[-.15,3.3],[-.15,3.1],
  [-3,70],[-.47,1.36],[-.2,5.2],[2.3,7.3],[.05,1.65],[-.08,2.05],[-.2,4.1],[-.05,1.5],[-4.4,.5],[-.1,2.6],
  [-1.08,.64],[-1.5,43],[-.4,9.3],[-.04,1.15],[-.4,8.7],[-.1,2.75],[-15,-1.5],[-.1,2.35],[-.06,1.7],[.1,1.28],
  [-.3,7.2],[-5.5,5.5],[-.25,5.3],[-.06,1.75],[-.3,8.5],[-1.15,.28],[-23,25],[-.7,2.2],[-.12,2.7],[-.1,2.8],
  [-.3,6.9],[-3,85],[-.15,4.05],[-3.15,-.3],[-.05,1.4],[-.12,3.1],[-.05,1.6],[-10.6,3],[-25,31],[-.04,1.4],
  [-.1,2.7],[-.2,4.9],[-.04,1.07],[-.3,6.5],[-.08,2.15],[.25,3.6],[-.08,2.05]];
const yTicks = [[0,2,4,6],[0,.5,1,1.5,2],[0,.5,1],[0,1,2,3,4,5],[.5,1,1.5,2],[0,.25,.5,.75,1],[0,.5,1,1.5],[0,1,2,3,4],[0,1,2,3],[0,1,2,3],
  [0,20,40,60],[0,.5,1],[0,1,2,3,4,5],[3,4,5,6,7],[.5,1,1.5],[0,.5,1,1.5,2],[0,1,2,3,4],[0,.5,1,1.5],[-4,-3,-2,-1,0],[0,.5,1,1.5,2,2.5],
  [-1,-.5,0,.5],[0,10,20,30,40],[0,2,4,6,8],[0,.25,.5,.75,1],[0,2,4,6,8],[0,.5,1,1.5,2,2.5],[-12.5,-10,-7.5,-5,-2.5],[0,.5,1,1.5,2],[0,.5,1,1.5],[.25,.5,.75,1,1.25],
  [0,2,4,6],[-4,-2,0,2,4],[0,1,2,3,4,5],[0,.5,1,1.5],[0,2,4,6,8],[-1,-.75,-.5,-.25,0,.25],[-20,-10,0,10,20],[0,1,2],[0,1,2],[0,.5,1,1.5,2,2.5],
  [0,2,4,6],[0,20,40,60,80],[0,1,2,3,4],[-3,-2.5,-2,-1.5,-1,-.5],[0,.25,.5,.75,1,1.25],[0,1,2,3],[0,.5,1,1.5],[-10,-7.5,-5,-2.5,0,2.5],[-20,-10,0,10,20,30],[0,.25,.5,.75,1,1.25],
  [0,1,2],[0,1,2,3,4],[0,.2,.4,.6,.8,1],[0,2,4,6],[0,.5,1,1.5,2],[1,2,3],[0,.5,1,1.5,2]];

const RED_STEP = 0.5;
const NAVY_STEP = 1;

var chart = echarts.init(document.getElementById('chart'), null, { renderer: 'svg' });

function decimals(ticks) {
  var d = 0;
  ticks.forEach(function (t) {
    var s = String(t);
    if (s.indexOf('.') >= 0) d = Math.max(d, s.split('.')[1].length);
  });
  return d;
}

function toPairs(values, step) {
  return values.map(function (v, k) { return [k * step, v]; });
}

var grids = [], xAxes = [], yAxes = [], series = [], graphics = [];
var FONT = 'DejaVu Sans, sans-serif';

games.forEach(function (name, i) {
  var col = i % 5, row = Math.floor(i / 5);
  var left = 17.7 + col * 114.75, top = 9 + row * 75.8, w = 93.3, h = 65;
  var xEnd = xEnds[i];
  var xt = [];
  for (var v = 0; v <= xEnd; v += 4) xt.push(v);
  var dec = decimals(yTicks[i]);

  grids.push({ left: left, top: top, width: w, height: h, show: true, borderColor: '#a8a8a8', borderWidth: 1 });

  xAxes.push({
    type: 'value', gridIndex: i, min: -0.05 * xEnd, max: xEnd, position: 'bottom',
    axisLine: { show: false, onZero: false },
    axisTick: { show: true, length: 2, customValues: xt, lineStyle: { color: '#555', width: 0.6 } },
    axisLabel: {
      customValues: xt, fontSize: 6, margin: 2.5, color: '#222', fontFamily: FONT,
      formatter: function (val) { return val === xEnd ? val + 'h' : String(val); }
    },
    splitLine: { show: true, lineStyle: { color: '#dedede', width: 0.6, type: [2, 2] } }
  });

  yAxes.push({
    type: 'value', gridIndex: i, min: yRanges[i][0], max: yRanges[i][1], position: 'left',
    axisLine: { show: false, onZero: false },
    axisTick: { show: true, length: 2, customValues: yTicks[i], lineStyle: { color: '#555', width: 0.6 } },
    axisLabel: {
      customValues: yTicks[i], fontSize: 6, margin: 3, color: '#222', fontFamily: FONT,
      formatter: function (val) { return val.toFixed(dec).replace('-', '\u2212'); }
    },
    splitLine: { show: true, lineStyle: { color: '#dedede', width: 0.6, type: [2, 2] } }
  });

  series.push({
    type: 'line', xAxisIndex: i, yAxisIndex: i, data: toPairs(navyRuns[i], NAVY_STEP),
    showSymbol: false, silent: true, animation: false,
    lineStyle: { color: '#1f1f50', width: 1 }
  });
  series.push({
    type: 'line', xAxisIndex: i, yAxisIndex: i, data: toPairs(redRuns[i], RED_STEP),
    showSymbol: false, silent: true, animation: false,
    lineStyle: { color: '#c8282d', width: 1, opacity: 0.92 }
  });

  // thick top spine, title and exponent text
  graphics.push({ type: 'rect', z: 50, shape: { x: left, y: top - 1.2, width: w, height: 2.4 }, style: { fill: '#b4b4b4' } });
  graphics.push({ type: 'text', z: 60, x: left + w / 2, y: top + 4.3,
    style: { text: name, fontSize: 7.5, fontFamily: FONT, fill: '#111', align: 'center', verticalAlign: 'middle' } });
  if (expLabels[i]) {
    graphics.push({ type: 'text', z: 60, x: left - 0.5, y: top - 4.2,
      style: { text: expLabels[i], fontSize: 6, fontFamily: FONT, fill: '#333', align: 'left', verticalAlign: 'middle' } });
  }
});

var option = {
  backgroundColor: '#fff',
  animation: false,
  grid: grids,
  xAxis: xAxes,
  yAxis: yAxes,
  series: series,
  graphic: graphics
};

chart.setOption(option);
</script>
</body>
</html>
